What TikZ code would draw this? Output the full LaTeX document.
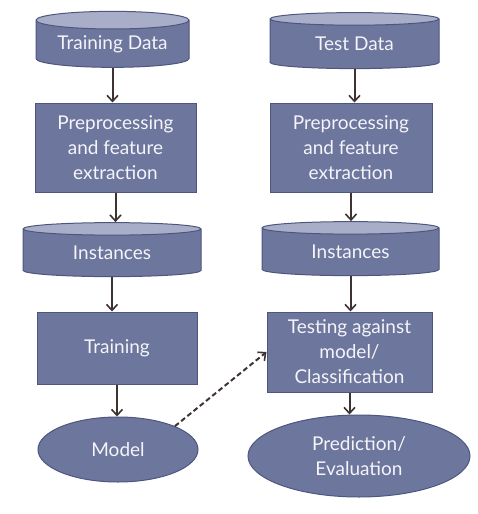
\documentclass[tikz,border=0pt]{standalone}
\usepackage{fontspec}
\setmainfont{Lato}
\usetikzlibrary{arrows.meta,shapes.geometric,positioning}
\definecolor{boxfill}{HTML}{6D769C}
\definecolor{boxedge}{HTML}{4E5680}
\definecolor{topfill}{HTML}{A9AEC8}
\definecolor{arrowc}{HTML}{3D3331}
\definecolor{textc}{HTML}{F4F4FA}

\begin{document}
\begin{tikzpicture}
    [
        x=1pt, y=-1pt,
        Step/.style={rectangle, draw=boxedge, fill=boxfill, line width=1pt, text=textc, align=center,
            font=\fontsize{19}{25}\selectfont, inner sep=0pt},
        Store/.style={cylinder, shape border rotate=90, aspect=0.16, draw=boxedge, line width=1pt,
            cylinder uses custom fill, cylinder body fill=boxfill, cylinder end fill=topfill,
            text=textc, font=\fontsize{19}{25}\selectfont, inner sep=0pt},
        Result/.style={ellipse, draw=boxedge, fill=boxfill, line width=1pt, text=textc, align=center,
            font=\fontsize{19}{25}\selectfont, inner sep=0pt},
        Flow/.style={draw=arrowc, line width=2pt, -{Straight Barb[length=6pt,width=11pt,line width=1.6pt]}}
    ]
    \useasboundingbox (0,0) rectangle (478,514);

    % training side
    \node[Store, minimum width=153pt, minimum height=56pt] (TrainData) at (112.5,44) {\raisebox{-3pt}{Training Data}};
    \node[Step, minimum width=161pt, minimum height=89pt] (TrainPrep) at (115.5,147.5) {Preprocessing\\ and feature\\ extraction};
    \node[Store, minimum width=178pt, minimum height=54pt] (TrainInst) at (112,253) {\raisebox{-3pt}{Instances}};
    \node[Step, minimum width=160pt, minimum height=72pt] (Training) at (117,348) {Training};
    \node[Result, minimum width=160pt, minimum height=65pt] (Model) at (118,449.5) {Model};

    % test side
    \node[Store, minimum width=169pt, minimum height=56pt] (TestData) at (354.5,44) {\raisebox{-3pt}{Test Data}};
    \node[Step, minimum width=162pt, minimum height=89pt] (TestPrep) at (351,147.5) {Preprocessing\\ and feature\\ extraction};
    \node[Store, minimum width=177pt, minimum height=54pt] (TestInst) at (350.5,252) {\raisebox{-3pt}{Instances}};
    \node[Step, minimum width=165pt, minimum height=80pt] (Testing) at (349.5,352) {Testing against\\ model/\\ Classification};
    \node[Result, minimum width=222pt, minimum height=82pt] (Predict) at (359,456) {Prediction/\\ Evaluation};

    % arrows
    \draw[Flow] (TrainData.south) -- (TrainData.south |- TrainPrep.north);
    \draw[Flow] (TrainPrep.south) -- (TrainPrep.south |- TrainInst.north);
    \draw[Flow] (TrainInst.south) -- (TrainInst.south |- Training.north);
    \draw[Flow] (Training.south) -- (Training.south |- Model.north);
    \draw[Flow] (TestData.south) -- (TestData.south |- TestPrep.north);
    \draw[Flow] (TestPrep.south) -- (TestPrep.south |- TestInst.north);
    \draw[Flow] (TestInst.south) -- (TestInst.south |- Testing.north);
    \draw[Flow] (Testing.south) -- (Testing.south |- Predict.north);
    \draw[Flow, dash pattern=on 5pt off 3pt] (Model.north east) -- (Testing.west);
\end{tikzpicture}
\end{document}
